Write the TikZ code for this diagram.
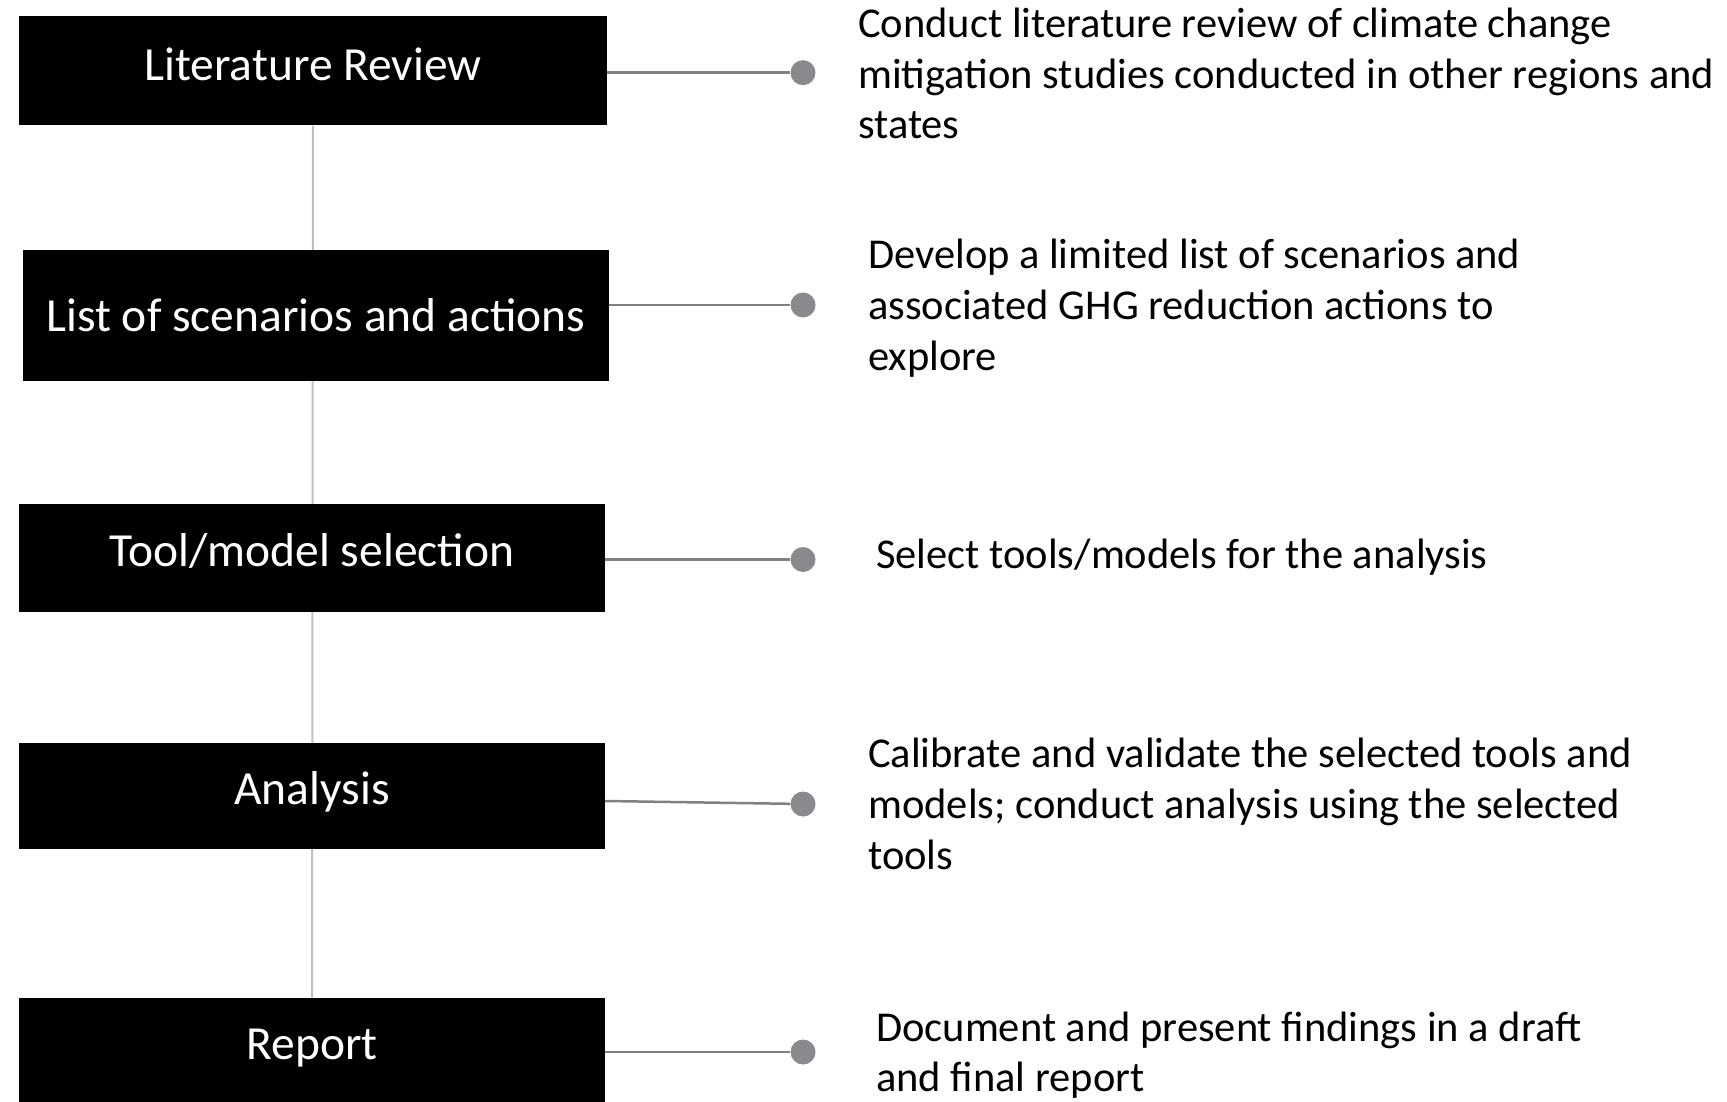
\documentclass[tikz,border=0pt]{standalone}
\usepackage{fontspec}
\setmainfont{Carlito}
\definecolor{dotgray}{HTML}{898A8E}
\definecolor{conngray}{HTML}{808080}
\definecolor{vgray}{HTML}{C0C0C0}
\pgfdeclarelayer{background}
\pgfsetlayers{background,main}
\begin{document}
\begin{tikzpicture}[x=1pt,y=-1pt,
  stepbox/.style={fill=black, text=white, inner sep=0pt, text height=34pt, font=\fontsize{47.5}{57}\selectfont},
  desc/.style={anchor=west, align=left, inner sep=0pt, font=\fontsize{42.5}{50.7}\selectfont},
  dot/.style={circle, fill=dotgray, inner sep=0pt, minimum size=25pt},
  conn/.style={draw=conngray, line width=2.5pt},
  vline/.style={draw=vgray, line width=2pt}]
\useasboundingbox (0,0) rectangle (1727,1102);
% boxes
\node[stepbox, text depth=15pt, minimum width=588pt, minimum height=109pt] (b1) at (313,71) {Literature Review};
\node[stepbox, text depth=3pt, minimum width=586pt, minimum height=131pt] (b2) at (316,315.5) {List of scenarios and actions};
\node[stepbox, text depth=18pt, minimum width=586pt, minimum height=108pt] (b3) at (312,558) {Tool/model selection};
\node[stepbox, text depth=17pt, minimum width=586pt, minimum height=106pt] (b4) at (312,796) {Analysis};
\node[stepbox, text depth=15pt, minimum width=586pt, minimum height=104pt] (b5) at (312,1050) {Report};
% dots
\node[dot] (d1) at (803,72.7) {};
\node[dot] (d2) at (803,305) {};
\node[dot] (d3) at (803,559.5) {};
\node[dot] (d4) at (803,804) {};
\node[dot] (d5) at (803,1052) {};
% descriptions
\node[desc] (t1) at (858,73.7) {Conduct literature review of climate change\\mitigation studies conducted in other regions and\\states};
\node[desc] (t2) at (868,308.3) {Develop a limited list of scenarios and\\associated GHG reduction actions to\\explore};
\node[desc] (t3) at (876,557.2) {Select tools/models for the analysis};
\node[desc] (t4) at (868,804) {Calibrate and validate the selected tools and\\models; conduct analysis using the selected\\tools};
\node[desc] (t5) at (876,1055.3) {Document and present findings in a draft\\and final report};
% connectors
\begin{pgfonlayer}{background}
\draw[vline] (b1.south) -- (b5.north);
\end{pgfonlayer}
\draw[conn] (b1.east |- d1) -- (d1);
\draw[conn] (b2.east |- d2) -- (d2);
\draw[conn] (b3.east |- d3) -- (d3);
\draw[conn] ([yshift=-5pt]b4.east) -- (d4);
\draw[conn] (b5.east |- d5) -- (d5);
\end{tikzpicture}
\end{document}
